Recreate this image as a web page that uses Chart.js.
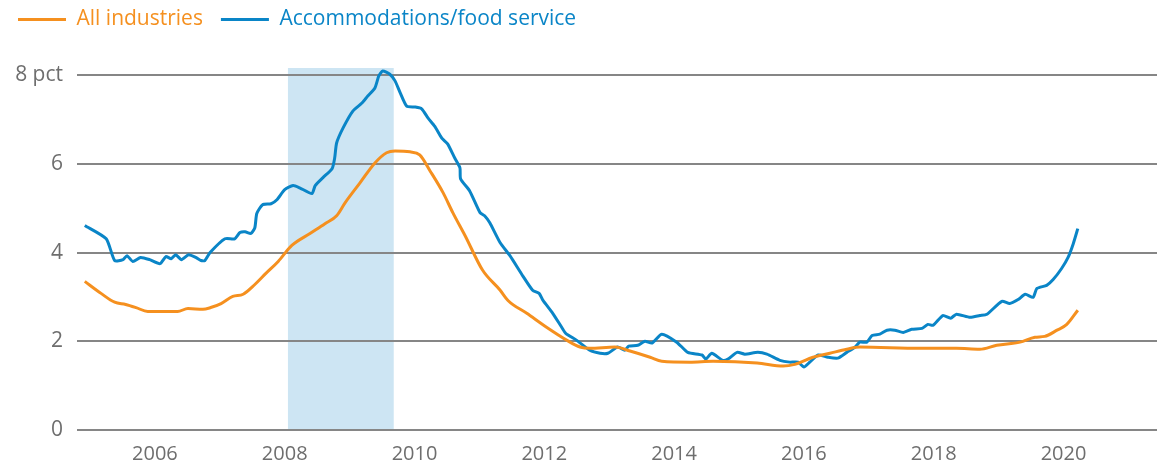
<!DOCTYPE html>
<html>
<head>
<meta charset="utf-8">
<script src="https://cdn.jsdelivr.net/npm/chart.js@4"></script>
<style>
  html, body { margin: 0; padding: 0; background: #fff; }
  #wrap { width: 1157px; height: 466px; }
</style>
</head>
<body>
<div id="wrap"><canvas id="chart"></canvas></div>
<script>
// decimal years
const allYears = [2004.92, 2005.17, 2005.38, 2005.55, 2005.71, 2005.89, 2006.35, 2006.51, 2006.74, 2006.86,
  2007.02, 2007.20, 2007.36, 2007.54, 2007.71, 2007.90, 2008.11, 2008.39, 2008.62, 2008.80,
  2008.93, 2009.16, 2009.39, 2009.57, 2009.70, 2009.93, 2010.08, 2010.24, 2010.44, 2010.59,
  2010.78, 2011.05, 2011.32, 2011.44, 2011.73, 2012.04, 2012.35, 2012.55, 2012.70, 2013.09,
  2013.32, 2013.63, 2013.81, 2014.24, 2014.60, 2015.28, 2015.68, 2015.86, 2016.14, 2016.40,
  2016.66, 2016.86, 2017.79, 2018.35, 2018.71, 2018.97, 2019.33, 2019.56, 2019.71, 2019.90,
  2020.05, 2020.22];
const allValues = [3.35, 3.08, 2.88, 2.83, 2.76, 2.67, 2.67, 2.74, 2.72, 2.76,
  2.85, 3.01, 3.06, 3.28, 3.53, 3.80, 4.16, 4.43, 4.65, 4.83,
  5.12, 5.57, 6.02, 6.25, 6.29, 6.27, 6.20, 5.84, 5.35, 4.90,
  4.38, 3.60, 3.15, 2.92, 2.63, 2.31, 2.02, 1.87, 1.84, 1.87,
  1.78, 1.64, 1.55, 1.53, 1.55, 1.51, 1.44, 1.48, 1.64, 1.73,
  1.82, 1.87, 1.84, 1.84, 1.82, 1.91, 1.98, 2.09, 2.11, 2.25,
  2.38, 2.70];

const foodYears = [2004.92, 2005.25, 2005.38, 2005.51, 2005.57, 2005.66, 2005.78, 2005.92, 2006.08, 2006.17,
  2006.25, 2006.32, 2006.41, 2006.52, 2006.63, 2006.71, 2006.77, 2006.85, 2007.08, 2007.23,
  2007.31, 2007.39, 2007.48, 2007.54, 2007.57, 2007.66, 2007.79, 2007.88, 2008.00, 2008.13,
  2008.23, 2008.42, 2008.47, 2008.59, 2008.73, 2008.77, 2008.80, 2008.90, 2009.05, 2009.19,
  2009.28, 2009.39, 2009.45, 2009.51, 2009.62, 2009.70, 2009.78, 2009.88, 2010.01, 2010.11,
  2010.21, 2010.31, 2010.42, 2010.51, 2010.62, 2010.70, 2010.71, 2010.85, 2011.01, 2011.08,
  2011.16, 2011.32, 2011.47, 2011.67, 2011.82, 2011.92, 2011.98, 2012.13, 2012.27, 2012.33,
  2012.50, 2012.70, 2012.86, 2012.98, 2013.13, 2013.24, 2013.30, 2013.44, 2013.55, 2013.66,
  2013.81, 2014.04, 2014.21, 2014.43, 2014.49, 2014.58, 2014.75, 2014.83, 2014.97, 2015.09,
  2015.29, 2015.43, 2015.63, 2015.78, 2015.91, 2016.00, 2016.09, 2016.22, 2016.37, 2016.52,
  2016.66, 2016.79, 2016.86, 2016.97, 2017.05, 2017.17, 2017.28, 2017.40, 2017.53, 2017.66,
  2017.82, 2017.91, 2017.99, 2018.14, 2018.26, 2018.35, 2018.56, 2018.71, 2018.82, 2019.05,
  2019.17, 2019.30, 2019.41, 2019.53, 2019.59, 2019.74, 2019.84, 2019.97, 2020.07, 2020.15,
  2020.22];
const foodValues = [4.61, 4.31, 3.82, 3.84, 3.93, 3.80, 3.89, 3.84, 3.75, 3.91,
  3.86, 3.95, 3.84, 3.95, 3.89, 3.82, 3.82, 4.00, 4.31, 4.31,
  4.45, 4.47, 4.43, 4.56, 4.88, 5.08, 5.10, 5.19, 5.42, 5.51,
  5.46, 5.33, 5.51, 5.69, 5.89, 6.13, 6.47, 6.81, 7.19, 7.37,
  7.53, 7.71, 7.98, 8.09, 8.02, 7.87, 7.60, 7.30, 7.28, 7.24,
  7.03, 6.85, 6.58, 6.45, 6.13, 5.91, 5.66, 5.39, 4.90, 4.83,
  4.67, 4.22, 3.93, 3.47, 3.15, 3.08, 2.92, 2.63, 2.31, 2.18,
  2.02, 1.80, 1.73, 1.73, 1.87, 1.80, 1.89, 1.91, 2.00, 1.96,
  2.16, 1.98, 1.75, 1.69, 1.60, 1.73, 1.57, 1.60, 1.75, 1.71,
  1.75, 1.71, 1.57, 1.53, 1.53, 1.42, 1.53, 1.69, 1.64, 1.62,
  1.75, 1.87, 1.98, 1.98, 2.13, 2.16, 2.25, 2.25, 2.20, 2.27,
  2.29, 2.38, 2.36, 2.58, 2.52, 2.61, 2.54, 2.58, 2.61, 2.90,
  2.85, 2.94, 3.06, 2.99, 3.19, 3.26, 3.39, 3.64, 3.89, 4.20,
  4.54];

const yearTicks = [2006, 2008, 2010, 2012, 2014, 2016, 2018, 2020];
const valueTicks = [0, 2, 4, 6, 8];
const recession = [2008.05, 2009.68];

const ORANGE = '#f5901f';
const BLUE = '#0a85c7';
const GREY = '#6e6e6e';
const FONT = '"Open Sans", sans-serif';

function toPoints(xs, ys) {
  return xs.map((x, i) => ({ x: x, y: ys[i] }));
}

const recessionBand = {
  id: 'recessionBand',
  beforeDraw(chart) {
    const { ctx, chartArea, scales } = chart;
    const x0 = scales.x.getPixelForValue(recession[0]);
    const x1 = scales.x.getPixelForValue(recession[1]);
    ctx.save();
    ctx.fillStyle = '#cde5f3';
    ctx.fillRect(x0, chartArea.top, x1 - x0, scales.y.getPixelForValue(0) - chartArea.top);
    ctx.restore();
  }
};

// push the plot area down below the legend
const legendGap = {
  id: 'legendGap',
  beforeInit(chart) {
    const fit = chart.legend.fit;
    chart.legend.fit = function () {
      fit.bind(chart.legend)();
      this.height += 28;
    };
  }
};

new Chart(document.getElementById('chart'), {
  type: 'line',
  data: {
    datasets: [
      {
        label: 'All industries',
        data: toPoints(allYears, allValues),
        borderColor: ORANGE,
        backgroundColor: ORANGE,
        borderWidth: 3,
        pointRadius: 0,
        cubicInterpolationMode: 'monotone'
      },
      {
        label: 'Accommodations/food service',
        data: toPoints(foodYears, foodValues),
        borderColor: BLUE,
        backgroundColor: BLUE,
        borderWidth: 3,
        pointRadius: 0,
        tension: 0.2
      }
    ]
  },
  options: {
    responsive: true,
    maintainAspectRatio: false,
    animation: false,
    layout: { padding: { top: -9, left: 0, right: 0, bottom: 0 } },
    plugins: {
      tooltip: { enabled: false },
      legend: {
        position: 'top',
        align: 'start',
        labels: {
          boxWidth: 48,
          boxHeight: 3,
          padding: 18,
          font: { family: FONT, size: 21 },
          generateLabels(chart) {
            return chart.data.datasets.map((ds, i) => ({
              text: ds.label,
              fillStyle: ds.borderColor,
              strokeStyle: ds.borderColor,
              lineWidth: 0,
              fontColor: ds.borderColor,
              datasetIndex: i
            }));
          }
        }
      }
    },
    scales: {
      x: {
        type: 'linear',
        min: 2004.8,
        max: 2021.44,
        afterBuildTicks(scale) {
          scale.ticks = yearTicks.map(v => ({ value: v }));
        },
        afterFit(scale) {
          scale.height = 36;
        },
        ticks: {
          color: GREY,
          font: { family: FONT, size: 20 },
          padding: 12,
          maxRotation: 0,
          callback: v => String(v)
        },
        grid: { display: false, drawTicks: false },
        border: { display: false }
      },
      y: {
        min: 0,
        max: 8.16,
        afterBuildTicks(scale) {
          scale.ticks = valueTicks.map(v => ({ value: v }));
        },
        afterFit(scale) {
          scale.width = 77;
        },
        ticks: {
          color: GREY,
          font: { family: FONT, size: 21 },
          padding: 14,
          callback: v => (v === 8 ? '8 pct' : String(v))
        },
        grid: {
          color: '#868686',
          lineWidth: 2,
          drawTicks: false
        },
        border: { display: false }
      }
    }
  },
  plugins: [recessionBand, legendGap]
});
</script>
</body>
</html>
